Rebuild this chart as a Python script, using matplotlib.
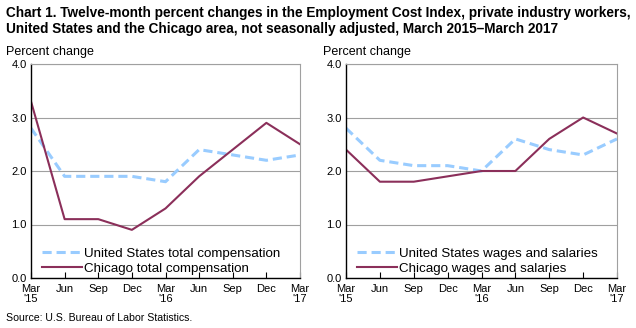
import matplotlib
matplotlib.use('Agg')
import matplotlib.pyplot as plt

# Datos
meses = ['Mar\n\'15', 'Jun', 'Sep', 'Dec', 'Mar\n\'16', 'Jun', 'Sep', 'Dec', 'Mar\n\'17']
us_total = [2.8, 1.9, 1.9, 1.9, 1.8, 2.4, 2.3, 2.2, 2.3]
chi_total = [3.3, 1.1, 1.1, 0.9, 1.3, 1.9, 2.4, 2.9, 2.5]
us_salarios = [2.8, 2.2, 2.1, 2.1, 2.0, 2.6, 2.4, 2.3, 2.6]
chi_salarios = [2.4, 1.8, 1.8, 1.9, 2.0, 2.0, 2.6, 3.0, 2.7]

azul = '#99CCFF'
granate = '#8B2F5A'

plt.rcParams['font.family'] = ['Liberation Sans', 'DejaVu Sans']

fig = plt.figure(figsize=(6.36, 3.28), dpi=100)
ax1 = fig.add_axes([31/636, 50/328, 269/636, 214/328])
ax2 = fig.add_axes([346/636, 50/328, 271/636, 214/328])

def dibujar(ax, us, chi, et_us, et_chi, x_etiqueta):
    x = range(len(meses))
    ax.plot(x, us, color=azul, linestyle=(0, (3, 1.6)), linewidth=2.2, label=et_us)
    ax.plot(x, chi, color=granate, linewidth=1.5, label=et_chi)
    ax.set_xlim(0, len(meses) - 1)
    ax.set_ylim(0, 4)
    ax.set_yticks([0, 1, 2, 3, 4])
    ax.set_yticklabels(['0.0', '1.0', '2.0', '3.0', '4.0'], fontsize=8)
    ax.set_xticks(list(x))
    ax.set_xticklabels(meses, fontsize=8, linespacing=1.1)
    ax.tick_params(axis='x', direction='in', length=4, pad=4)
    ax.tick_params(axis='y', length=0, pad=3)
    ax.grid(axis='y', color='#A0A0A0', linewidth=0.8)
    ax.set_axisbelow(True)
    for lado in ['top', 'right']:
        ax.spines[lado].set_color('#A0A0A0')
    for lado in ['left', 'bottom']:
        ax.spines[lado].set_color('black')
        ax.spines[lado].set_linewidth(1)
    ax.text(x_etiqueta, 1.03, 'Percent change', transform=ax.transAxes, fontsize=9,
            ha='left', va='bottom')
    ax.legend(loc='lower left', bbox_to_anchor=(0.02, -0.01), frameon=False, fontsize=9.6,
              handlelength=3.0, handletextpad=0.2, labelspacing=0.2, borderaxespad=0.0)

dibujar(ax1, us_total, chi_total, 'United States total compensation', 'Chicago total compensation', -0.093)
dibujar(ax2, us_salarios, chi_salarios, 'United States wages and salaries', 'Chicago wages and salaries', -0.085)

fig.text(6/636, 1 - 6/328,
         'Chart 1. Twelve-month percent changes in the Employment Cost Index, private industry workers,\n'
         'United States and the Chicago area, not seasonally adjusted, March 2015\u2013March 2017',
         fontsize=9.8, fontweight='bold', ha='left', va='top', linespacing=1.15,
         family=['Liberation Sans Narrow', 'Liberation Sans', 'DejaVu Sans'])
fig.text(6/636, 1 - 318/328, 'Source: U.S. Bureau of Labor Statistics.', fontsize=7.6,
         ha='left', va='center')

fig.savefig('out.png', dpi=100)
